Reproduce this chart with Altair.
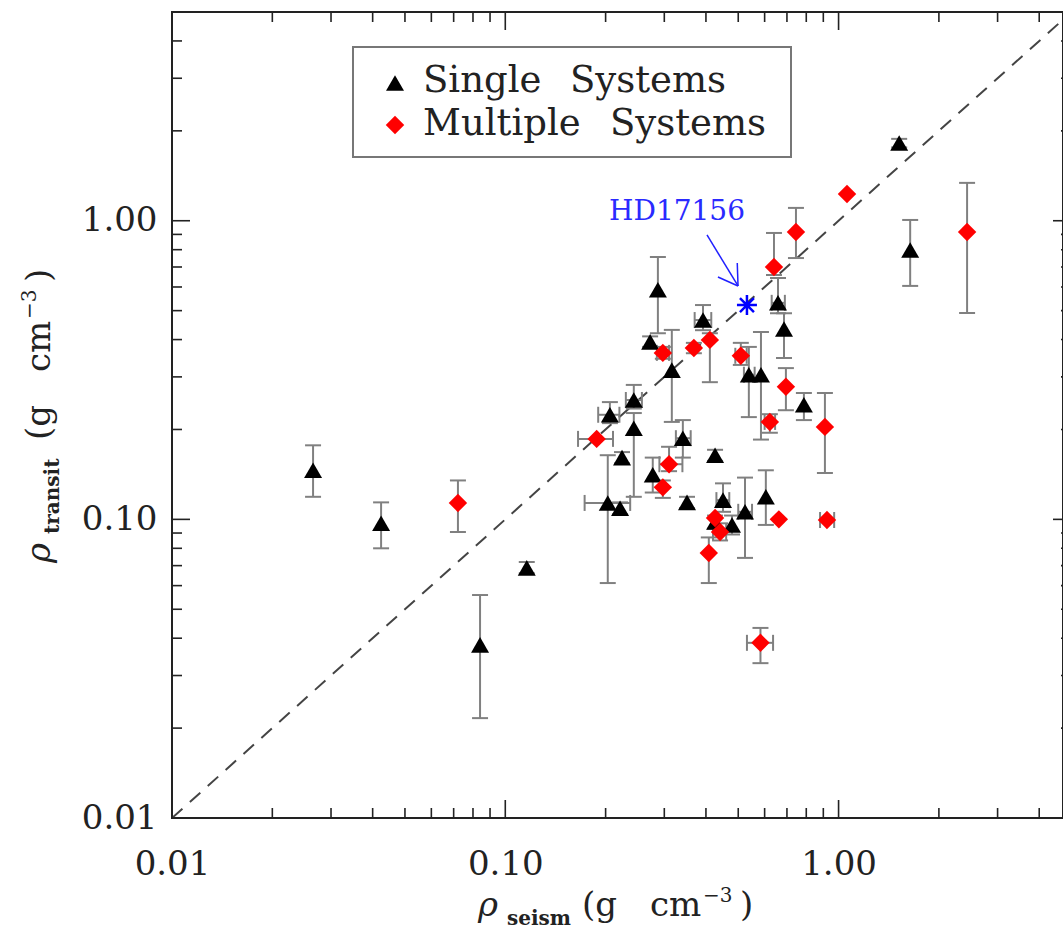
import altair as alt
import pandas as pd

# ---------------- data ----------------
single_x = [0.0265, 0.0424, 0.116, 0.084, 1.52, 1.64, 0.287, 0.272, 0.316, 0.392,
            0.538, 0.585, 0.658, 0.686, 0.787, 0.243, 0.206, 0.243, 0.341, 0.224,
            0.426, 0.277, 0.351, 0.203, 0.221, 0.450, 0.426, 0.479, 0.524, 0.605]
single_y = [0.146, 0.097, 0.0688, 0.038, 1.82, 0.798, 0.587, 0.393, 0.316, 0.465,
            0.305, 0.305, 0.531, 0.434, 0.242, 0.251, 0.224, 0.202, 0.187, 0.161,
            0.164, 0.141, 0.114, 0.1135, 0.109, 0.116, 0.098, 0.0958, 0.106, 0.119]
single_ylo = [0.119, 0.080, 0.066, 0.0216, 1.76, 0.605, 0.42, 0.378, 0.212, 0.43,
              0.22, 0.185, 0.49, 0.347, 0.215, 0.235, 0.21, 0.119, 0.161, 0.154,
              0.157, 0.123, 0.109, 0.0612, 0.104, 0.106, 0.093, 0.089, 0.0743, 0.0958]
single_yhi = [0.177, 0.114, 0.072, 0.0558, 1.88, 1.006, 0.756, 0.41, 0.431, 0.522,
              0.378, 0.424, 0.643, 0.49, 0.265, 0.282, 0.247, 0.227, 0.215, 0.168,
              0.171, 0.161, 0.119, 0.164, 0.114, 0.132, 0.103, 0.103, 0.138, 0.146]
single_xlo = [None, None, None, None, None, None, None, None, None, 0.37,
              0.52, None, 0.63, None, None, 0.23, 0.19, None, 0.325, None,
              None, None, None, 0.173, None, 0.43, None, None, 0.50, None]
single_xhi = [None, None, None, None, None, None, None, None, None, 0.415,
              0.56, None, 0.69, None, None, 0.257, 0.22, None, 0.36, None,
              None, None, None, 0.237, None, 0.47, None, None, 0.55, None]

multi_x = [0.0721, 0.188, 0.297, 0.368, 0.411, 0.509, 0.640, 0.745, 1.06, 2.43,
           0.695, 0.622, 0.910, 0.310, 0.297, 0.441, 0.662, 0.923, 0.408, 0.583, 0.426]
multi_y = [0.1135, 0.186, 0.361, 0.375, 0.399, 0.353, 0.700, 0.917, 1.229, 0.917,
           0.278, 0.212, 0.204, 0.153, 0.128, 0.0907, 0.100, 0.0995, 0.0772, 0.0386, 0.101]
multi_ylo = [0.0907, None, 0.345, 0.36, 0.288, 0.329, 0.658, 0.750, None, 0.491,
             0.232, 0.195, 0.143, 0.145, 0.118, 0.085, None, None, 0.0612, 0.033, None]
multi_yhi = [0.135, None, 0.378, 0.39, 0.42, 0.39, 0.910, 1.104, None, 1.339,
             0.321, 0.225, 0.265, 0.175, 0.135, 0.097, None, None, 0.087, 0.0433, None]
multi_xlo = [None, 0.1653, 0.285, None, None, 0.49, None, None, None, None,
             None, 0.60, None, 0.29, None, 0.42, None, 0.88, None, 0.531, None]
multi_xhi = [None, 0.2105, 0.31, None, None, 0.53, None, None, None, None,
             None, 0.645, None, 0.34, None, 0.46, None, 0.97, None, 0.636, None]

hd_name = "HD17156"
hd_x = [0.531]
hd_y = [0.522]
hd_label_x = [0.3275]
hd_label_y = [1.07]
arrow_x = [0.4029, 0.4993, 0.4993]
arrow_y = [0.8964, 0.6048, 0.6048]
arrow_x2 = [0.4993, 0.4966, 0.4346]
arrow_y2 = [0.6048, 0.7224, 0.6483]

diag = [0.01, 5.0]

tick_major = [0.01, 0.1, 1.0]
tick_minor = [0.02, 0.03, 0.04, 0.05, 0.06, 0.07, 0.08, 0.09,
              0.2, 0.3, 0.4, 0.5, 0.6, 0.7, 0.8, 0.9, 2.0, 3.0, 4.0]

legend_labels = ["Single Systems", "Multiple Systems"]

# ---------------- layout ----------------
W, H = 891, 806
X_DOMAIN = [0.01, 4.714]
Y_DOMAIN = [0.01, 5.0]
FONT = "DejaVu Serif"
INK = "#222222"
ERR = "#808080"

xs = alt.Scale(type="log", domain=X_DOMAIN, nice=False)
ys = alt.Scale(type="log", domain=Y_DOMAIN, nice=False)

axis_x = alt.Axis(values=tick_major, format=".2f", title=None, ticks=False, tickSize=0,
                  domain=False, grid=False, labelFont=FONT, labelFontSize=34,
                  labelColor=INK, labelPadding=29, labelFlush=False, labelOverlap=False)
axis_y = alt.Axis(values=tick_major, format=".2f", title=None, ticks=False, tickSize=0,
                  domain=False, grid=False, labelFont=FONT, labelFontSize=34,
                  labelColor=INK, labelPadding=15, labelFlush=False, labelOverlap=False)


def X(f):
    return alt.X(f, type="quantitative", scale=xs, axis=axis_x)


def Y(f):
    return alt.Y(f, type="quantitative", scale=ys, axis=axis_y)


def frame(xv, yv, ylo, yhi, xlo, xhi, group):
    return pd.DataFrame({"x": xv, "y": yv, "ylo": ylo, "yhi": yhi,
                         "xlo": xlo, "xhi": xhi, "group": group})


df = pd.concat([
    frame(single_x, single_y, single_ylo, single_yhi, single_xlo, single_xhi, "single"),
    frame(multi_x, multi_y, multi_ylo, multi_yhi, multi_xlo, multi_xhi, "multi"),
], ignore_index=True)
df_yerr = df.dropna(subset=["ylo", "yhi"])[["x", "ylo", "yhi"]]
df_xerr = df.dropna(subset=["xlo", "xhi"])[["y", "xlo", "xhi"]]
df_single = df[df.group == "single"]
df_multi = df[df.group == "multi"]

layers = []

# diagonal 1:1 line
layers.append(
    alt.Chart(pd.DataFrame({"x": diag, "y": diag}))
    .mark_line(color="#444444", strokeWidth=2, strokeDash=[14, 10], clip=True)
    .encode(x=X("x"), y=Y("y"))
)

# error bars
layers.append(alt.Chart(df_yerr).mark_rule(color=ERR, strokeWidth=2)
              .encode(x=X("x"), y=Y("ylo"), y2="yhi"))
for f in ["ylo", "yhi"]:
    layers.append(alt.Chart(df_yerr).mark_rule(color=ERR, strokeWidth=2, xOffset=-8, x2Offset=8)
                  .encode(x=X("x"), x2="x", y=Y(f)))
layers.append(alt.Chart(df_xerr).mark_rule(color=ERR, strokeWidth=2)
              .encode(y=Y("y"), x=X("xlo"), x2="xhi"))
for f in ["xlo", "xhi"]:
    layers.append(alt.Chart(df_xerr).mark_rule(color=ERR, strokeWidth=2, yOffset=-8, y2Offset=8)
                  .encode(y=Y("y"), y2="y", x=X(f)))

# points
layers.append(alt.Chart(df_single)
              .mark_point(shape="triangle-up", filled=True, color="black", size=324, opacity=1)
              .encode(x=X("x"), y=Y("y")))
layers.append(alt.Chart(df_multi)
              .mark_point(shape="diamond", filled=True, color="#ff0000", size=340, opacity=1)
              .encode(x=X("x"), y=Y("y")))

# HD17156
layers.append(alt.Chart(pd.DataFrame({"x": hd_x, "y": hd_y}))
              .mark_point(shape="M0,-1L0,1M-1,0L1,0M-0.7,-0.7L0.7,0.7M-0.7,0.7L0.7,-0.7",
                          filled=False, color="#0000ff", strokeWidth=2.5, size=400, opacity=1)
              .encode(x=X("x"), y=Y("y")))
layers.append(alt.Chart(pd.DataFrame({"x": arrow_x, "y": arrow_y, "x2": arrow_x2, "y2": arrow_y2}))
              .mark_rule(color="#2020ff", strokeWidth=1.5)
              .encode(x=X("x"), y=Y("y"), x2="x2", y2="y2"))
layers.append(alt.Chart(pd.DataFrame({"x": hd_label_x, "y": hd_label_y, "t": [hd_name]}))
              .mark_text(font=FONT, fontSize=28, color="#2a2aff", align="center", baseline="middle")
              .encode(x=X("x"), y=Y("y"), text="t:N"))

# inward ticks on all four sides
dmaj = pd.DataFrame({"v": tick_major})
dmin = pd.DataFrame({"v": tick_minor})
for d, L in [(dmaj, 18), (dmin, 10)]:
    rule = alt.Chart(d).mark_rule(color=INK, strokeWidth=1.6)
    layers.append(rule.encode(x=X("v"), y=alt.value(H), y2=alt.value(H - L)))
    layers.append(rule.encode(x=X("v"), y=alt.value(0), y2=alt.value(L)))
    layers.append(rule.encode(y=Y("v"), x=alt.value(0), x2=alt.value(L)))
    layers.append(rule.encode(y=Y("v"), x=alt.value(899 - L), x2=alt.value(899)))

# legend
one = alt.Data(values=[{}])
layers.append(alt.Chart(one).mark_rect(fill="white", stroke="#777777", strokeWidth=2)
              .encode(x=alt.value(181), x2=alt.value(619), y=alt.value(35), y2=alt.value(145)))
layers.append(alt.Chart(one).mark_point(shape="triangle-up", filled=True, color="black",
                                        size=324, opacity=1)
              .encode(x=alt.value(223), y=alt.value(71)))
layers.append(alt.Chart(one).mark_point(shape="diamond", filled=True, color="#ff0000",
                                        size=340, opacity=1)
              .encode(x=alt.value(223), y=alt.value(113)))
for lab, yy, xs_words in zip(legend_labels, [80, 123], [[251, 398], [251, 438]]):
    for word, xw in zip(lab.split(" "), xs_words):
        layers.append(alt.Chart(one).mark_text(font=FONT, fontSize=37, color=INK, align="left",
                                               baseline="alphabetic")
                      .encode(x=alt.value(xw), y=alt.value(yy), text=alt.value(word)))


# axis titles built from pieces (sub/superscripts)
def piece(txt, x, y, size=34, weight="normal", style="normal", angle=0):
    return (alt.Chart(one)
            .mark_text(font=FONT, fontSize=size, fontWeight=weight, fontStyle=style,
                       color=INK, align="left", baseline="alphabetic", angle=angle)
            .encode(x=alt.value(x), y=alt.value(y), text=alt.value(txt)))


layers += [
    piece("ρ", 306, 904, style="italic"),
    piece("seism", 335, 913, size=20, weight="bold"),
    piece("(g", 410, 904),
    piece("cm", 478, 904),
    piece("−3", 531, 890, size=20),
    piece(")", 568, 904),
    piece("ρ", -122, 551, style="italic", angle=270),
    piece("transit", -113, 522, size=20, weight="bold", angle=270),
    piece("(g", -122, 428, angle=270),
    piece("cm", -122, 360, angle=270),
    piece("−3", -136, 307, size=20, angle=270),
    piece(")", -122, 270, angle=270),
]

chart = (
    alt.layer(*layers)
    .properties(width=W, height=H, background="white",
                autosize=alt.AutoSizeParams(type="none"),
                padding={"left": 172, "top": 12, "right": 0, "bottom": 114})
    .configure_view(stroke=INK, strokeWidth=2)
)

chart.save("out.html", embed_options={"renderer": "svg", "actions": False})
